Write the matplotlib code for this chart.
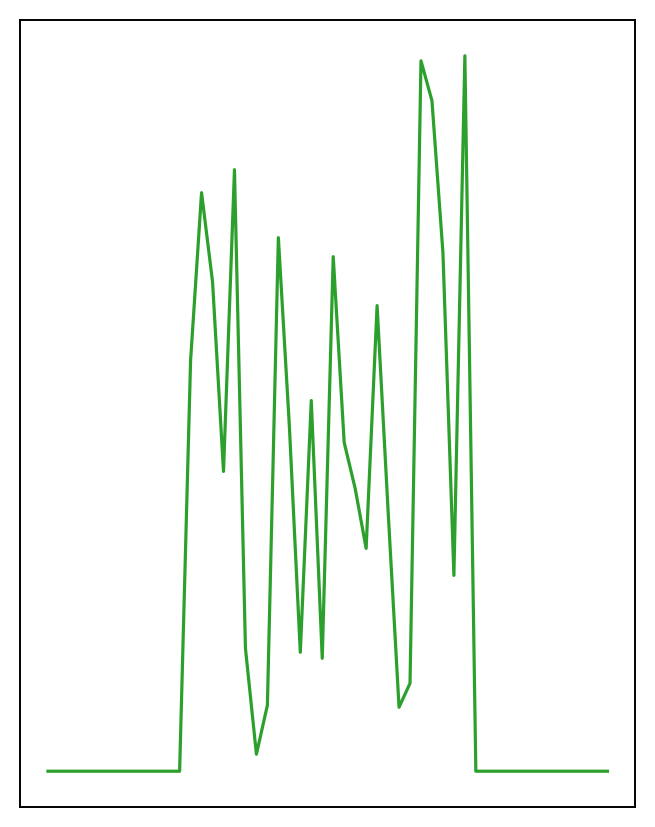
import matplotlib
matplotlib.use("Agg")
import matplotlib.pyplot as plt

# values (52 samples, flat zero at both ends)
lead = [0] * 13
middle = [411, 579, 490, 300, 602, 123, 17, 66, 534, 346, 119, 371, 113,
          515, 329, 283, 223, 466, 261, 64, 88, 711, 671, 519, 196, 716]
tail = [0] * 13
values = lead + middle + tail
steps = list(range(len(values)))

fig = plt.figure(figsize=(6.55, 8.27), dpi=100)
ax = fig.add_axes([0.0305, 0.0242, 0.9397, 0.9516])
ax.plot(steps, values, color='#2ca02c', linewidth=2.3)
ax.set_xticks([])
ax.set_yticks([])
for sp in ax.spines.values():
    sp.set_linewidth(1.4)

plt.savefig('out.png', dpi=100)
